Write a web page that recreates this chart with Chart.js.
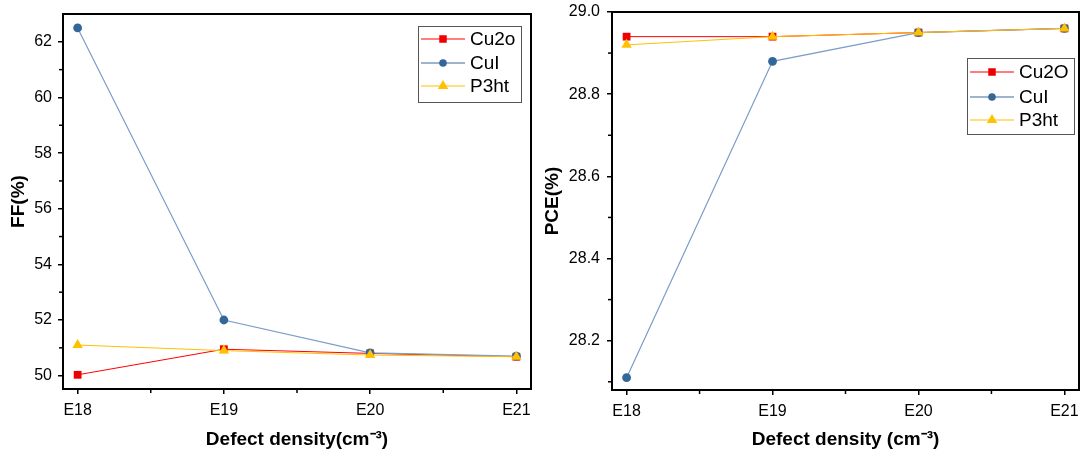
<!DOCTYPE html>
<html><head><meta charset="utf-8">
<script src="https://cdn.jsdelivr.net/npm/chart.js@4/dist/chart.umd.min.js"></script>
<style>
html,body{margin:0;padding:0;background:#fff;}
#wrap{position:relative;width:1081px;height:458px;overflow:hidden;}
canvas{position:absolute;top:0;}
#c1{left:0;}
#c2{left:540px;}
</style></head><body>
<div id="wrap">
<canvas id="c1" width="540" height="458"></canvas>
<canvas id="c2" width="541" height="458"></canvas>
</div>
<script>
// ---- data ----
const categories = ['E18', 'E19', 'E20', 'E21'];
const ffCu2o = [50.03, 50.95, 50.80, 50.68];
const ffCuI  = [62.50, 52.00, 50.82, 50.70];
const ffP3ht = [51.10, 50.90, 50.74, 50.68];
const pceCu2O = [28.94, 28.94, 28.95, 28.96];
const pceCuI  = [28.11, 28.88, 28.95, 28.96];
const pceP3ht = [28.92, 28.94, 28.95, 28.96];
const ffTicks = [50, 52, 54, 56, 58, 60, 62];
const ffMinor = [51, 53, 55, 57, 59, 61];
const pceTicks = [28.2, 28.4, 28.6, 28.8, 29.0];
const pceMinor = [28.1, 28.3, 28.5, 28.7, 28.9];
const xMinor = [0.5, 1.5, 2.5];
const ffNames = ['Cu2o', 'CuI', 'P3ht'];
const pceNames = ['Cu2O', 'CuI', 'P3ht'];

const FONT = "'Liberation Sans', Arial, sans-serif";
const styles = [
  {line: '#ff0000', lw: 1, point: 'rect', fill: '#ee0000', r: 5.5, legLine: '#ff0000', legLw: 1.2, legR: 5},
  {line: '#7d9cc8', lw: 1.2, point: 'circle', fill: '#336699', r: 4.4, legLine: '#9fb3cf', legLw: 2, legR: 3.8},
  {line: '#ffc000', lw: 1, point: 'triangle', fill: '#ffc000', r: 6, legLine: '#ffc000', legLw: 1.2, legR: 6}
];
const orders = [2, 1, 0];

function toPts(arr) { return arr.map((v, i) => ({x: i, y: v})); }

function makeDatasets(names, series) {
  return series.map((s, k) => ({
    label: names[k],
    data: toPts(s),
    borderColor: styles[k].line,
    borderWidth: styles[k].lw,
    backgroundColor: styles[k].fill,
    pointStyle: styles[k].point,
    pointRadius: styles[k].r,
    pointBorderWidth: 0,
    pointBackgroundColor: styles[k].fill,
    pointBorderColor: styles[k].fill,
    tension: 0,
    order: orders[k]
  }));
}

function decoPlugin(cfg) {
  return {
    id: 'deco',
    afterDraw(chart) {
      const ctx = chart.ctx, a = chart.chartArea, x = chart.scales.x, y = chart.scales.y;
      ctx.save();
      ctx.strokeStyle = '#000';
      ctx.lineWidth = 2;
      ctx.beginPath();
      ctx.moveTo(a.left - 1, a.top);
      ctx.lineTo(a.right, a.top);
      ctx.lineTo(a.right, a.bottom + 1);
      ctx.stroke();
      ctx.lineWidth = 1.5;
      xMinor.forEach(v => {
        const px = x.getPixelForValue(v);
        ctx.beginPath(); ctx.moveTo(px, a.bottom); ctx.lineTo(px, a.bottom + 4); ctx.stroke();
      });
      cfg.yMinor.forEach(v => {
        const py = y.getPixelForValue(v);
        ctx.beginPath(); ctx.moveTo(a.left, py); ctx.lineTo(a.left - 4, py); ctx.stroke();
      });
      // legend
      const L = cfg.legend;
      ctx.lineWidth = 1;
      ctx.strokeStyle = '#555';
      ctx.strokeRect(L.x + 0.5, L.y + 0.5, L.w, L.h);
      ctx.font = '19px ' + FONT;
      ctx.textBaseline = 'middle';
      ctx.fillStyle = '#000';
      cfg.names.forEach((n, k) => {
        const st = styles[k];
        const ry = L.y + L.rows[k];
        ctx.strokeStyle = st.legLine;
        ctx.lineWidth = st.legLw;
        ctx.beginPath(); ctx.moveTo(L.x + 3, ry); ctx.lineTo(L.x + 47, ry); ctx.stroke();
        ctx.fillStyle = st.fill;
        const cx = L.x + 25;
        if (st.point === 'rect') {
          const s = st.legR * 0.75;
          ctx.fillRect(cx - s, ry - s, 2 * s, 2 * s);
        } else if (st.point === 'circle') {
          ctx.beginPath(); ctx.arc(cx, ry, st.legR, 0, Math.PI * 2); ctx.fill();
        } else {
          const r = st.legR;
          ctx.beginPath();
          ctx.moveTo(cx, ry - r);
          ctx.lineTo(cx + r * 0.866, ry + r * 0.5);
          ctx.lineTo(cx - r * 0.866, ry + r * 0.5);
          ctx.closePath(); ctx.fill();
        }
        ctx.fillStyle = '#000';
        ctx.fillText(n, L.x + 52, ry + 1);
      });
      ctx.restore();
    }
  };
}

function makeChart(id, cfg) {
  return new Chart(document.getElementById(id), {
    type: 'line',
    data: {datasets: makeDatasets(cfg.names, cfg.series)},
    options: {
      responsive: false,
      animation: false,
      layout: {autoPadding: false, padding: {top: cfg.padTop, right: cfg.padRight, left: 0, bottom: 0}},
      plugins: {legend: {display: false}, tooltip: {enabled: false}},
      scales: {
        x: {
          type: 'linear', min: -0.1, max: 3.1,
          afterBuildTicks: s => { s.ticks = categories.map((c, i) => ({value: i})); },
          afterFit: s => { s.height = cfg.xH; s.paddingLeft = 0; s.paddingRight = 0; },
          ticks: {callback: v => categories[v], color: '#000', font: {family: FONT, size: 16}, padding: 7, maxRotation: 0, autoSkip: false},
          grid: {display: true, drawOnChartArea: false, drawTicks: true, tickLength: 5, color: '#000', lineWidth: 1.5},
          border: {display: true, color: '#000', width: 2},
          title: {display: true, text: cfg.xTitle, color: '#000', font: {family: FONT, size: 19, weight: 'bold'}, padding: {top: 0, bottom: 7}}
        },
        y: {
          type: 'linear', min: cfg.yMin, max: cfg.yMax,
          afterBuildTicks: s => { s.ticks = cfg.yTicks.map(v => ({value: v})); },
          afterFit: s => { s.width = cfg.yW; s.paddingTop = 0; s.paddingBottom = 0; },
          ticks: {callback: v => cfg.yFmt(v), color: '#000', font: {family: FONT, size: 16}, padding: cfg.yPad},
          grid: {display: true, drawOnChartArea: false, drawTicks: true, tickLength: 5, color: '#000', lineWidth: 1.5},
          border: {display: true, color: '#000', width: 2},
          title: {display: true, text: cfg.yTitle, color: '#000', font: {family: FONT, size: 19, weight: 'bold'}, padding: {top: cfg.yTitlePad, bottom: 0}}
        }
      }
    },
    plugins: [decoPlugin(cfg)]
  });
}

makeChart('c1', {
  names: ffNames, series: [ffCu2o, ffCuI, ffP3ht],
  padTop: 14, padRight: 9, xH: 69, yW: 63, yPad: 6, yTitlePad: 7.5,
  yMin: 49.52, yMax: 63, yTicks: ffTicks, yMinor: ffMinor, yFmt: v => String(v),
  xTitle: 'Defect density(cm\u207B\u00B3)', yTitle: 'FF(%)',
  legend: {x: 418, y: 26, w: 103, h: 76, rows: [13, 37, 60]}
});
makeChart('c2', {
  names: pceNames, series: [pceCu2O, pceCuI, pceP3ht],
  padTop: 12, padRight: 2, xH: 68, yW: 72, yPad: 7, yTitlePad: 1.5,
  yMin: 28.08, yMax: 29.0, yTicks: pceTicks, yMinor: pceMinor, yFmt: v => v.toFixed(1),
  xTitle: 'Defect density (cm\u207B\u00B3)', yTitle: 'PCE(%)',
  legend: {x: 427, y: 58, w: 107, h: 76, rows: [14, 39, 62]}
});
</script>
</body></html>
